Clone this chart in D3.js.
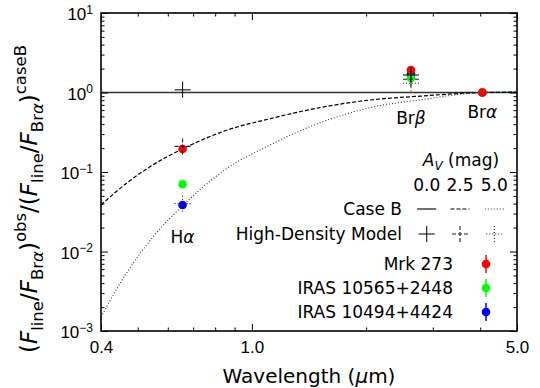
<!DOCTYPE html>
<html>
<head>
<meta charset="utf-8">
<script src="https://cdn.jsdelivr.net/npm/d3@7"></script>
<style>
  body { margin: 0; background: #fff; }
  svg { font-family: "DejaVu Sans", sans-serif; }
</style>
</head>
<body>
<svg id="chart" width="540" height="388"></svg>
<script>
// lines and measured ratios (normalised to Br alpha and case B)
const lineNames = ["H", "Br", "Br"];
const lineGreek = ["α", "β", "α"];
const lineWavelengths = [0.6563, 2.626, 4.052];

const sources = ["Mrk 273", "IRAS 10565+2448", "IRAS 10494+4424"];
const sourceColors = ["#ff0000", "#00ff00", "#0000ff"];
const mrk273Ratio = [0.195, 1.92, 1.0];
const mrk273Err = [0.015, 0.12, 0];
const iras10565Ratio = [0.070, 1.52, 1.0];
const iras10565Err = [0.004, 0.10, 0];
const iras10494Ratio = [0.0385, 1.71, 1.0];
const iras10494Err = [0.003, 0.10, 0];

// high-density model (Ha, Brb) for A_V = 0, 2.5, 5
const hdWavelengths = [0.6563, 2.626];
const hdAv00 = [1.08, 1.66];
const hdAv25 = [0.21, 1.47];
const hdAv50 = [0.040, 1.31];

// case B reddening curves
const curveWavelengths = [0.40, 0.47, 0.55, 0.656, 0.85, 1.12, 1.51, 2.05, 2.78, 4.05, 5.0];
const caseBAv00 = [1, 1, 1, 1, 1, 1, 1, 1, 1, 1, 1];
const caseBAv25 = [0.0385, 0.074, 0.124, 0.195, 0.33, 0.47, 0.645, 0.805, 0.90, 1.0, 1.01];
const caseBAv50 = [0.0015, 0.0056, 0.0155, 0.0375, 0.107, 0.22, 0.415, 0.645, 0.81, 1.0, 1.02];

const avLabels = ["0.0", "2.5", "5.0"];
const xTickValues = [0.4, 1.0, 5.0];
const xTickLabels = ["0.4", "1.0", "5.0"];
const xMinorValues = [0.5, 0.6, 0.7, 0.8, 0.9, 2, 3, 4];
const yTickValues = [1e-3, 1e-2, 1e-1, 1, 10];
const yTickExps = ["−3", "−2", "−1", "0", "1"];

const svg = d3.select("#chart");
const L = 101, R = 517, T = 13, B = 331;

const x = d3.scaleLog().domain([0.4, 5.0]).range([L, R]);
const y = d3.scaleLog().domain([1e-3, 10]).range([B, T]);

const styles = [
  { dash: null, color: "#333", width: 1.4 },
  { dash: "4,2", color: "#000", width: 1.2 },
  { dash: "1,2", color: "#333", width: 1.1 }
];

// case B curves
const line = d3.line().x(d => x(d[0])).y(d => y(d[1])).curve(d3.curveMonotoneX);
[caseBAv00, caseBAv25, caseBAv50].forEach((vals, i) => {
  svg.append("path")
    .datum(curveWavelengths.map((w, j) => [w, vals[j]]))
    .attr("d", line)
    .attr("fill", "none")
    .attr("stroke", styles[i].color)
    .attr("stroke-width", styles[i].width)
    .attr("stroke-dasharray", styles[i].dash);
});

// observed points, drawn last source first
const obs = [
  [mrk273Ratio, mrk273Err],
  [iras10565Ratio, iras10565Err],
  [iras10494Ratio, iras10494Err]
];
[2, 1, 0].forEach(s => {
  const [vals, errs] = obs[s];
  const g = svg.append("g");
  lineWavelengths.forEach((w, j) => {
    if (errs[j] > 0) {
      g.append("line")
        .attr("x1", x(w)).attr("x2", x(w))
        .attr("y1", y(vals[j] - errs[j])).attr("y2", y(vals[j] + errs[j]))
        .attr("stroke", sourceColors[s]).attr("stroke-width", 1.5);
    }
    g.append("circle")
      .attr("cx", x(w)).attr("cy", y(vals[j])).attr("r", 4.3)
      .attr("fill", sourceColors[s]);
  });
});

// cross markers
function cross(px, py, st, arm) {
  const g = svg.append("g")
    .attr("stroke", st.dash ? "#222" : "#111")
    .attr("stroke-width", 1.1)
    .attr("stroke-dasharray", st.dash);
  g.append("line").attr("x1", px - arm).attr("x2", px + arm).attr("y1", py).attr("y2", py);
  g.append("line").attr("x1", px).attr("x2", px).attr("y1", py - arm).attr("y2", py + arm);
}
[hdAv00, hdAv25, hdAv50].forEach((vals, i) => {
  hdWavelengths.forEach((w, j) => cross(x(w), y(vals[j]), styles[i], 8));
});

// line labels
const lineLabelDy = [38, 31, 25];
lineWavelengths.forEach((w, j) => {
  const ref = j === 0 ? iras10494Ratio[j] : 1;
  const t = svg.append("text")
    .attr("x", x(w)).attr("y", y(ref) + lineLabelDy[j])
    .attr("text-anchor", "middle")
    .style("font-size", "17px");
  t.append("tspan").text(lineNames[j]);
  t.append("tspan").style("font-style", "italic").text(lineGreek[j]);
});

// axes frame and ticks
function addAxis(axisFn, scale, transform, values, size, labels) {
  const ax = axisFn(scale).tickValues(values).tickSize(-size).tickPadding(8)
    .tickFormat(labels ? ((d, i) => labels[i]) : () => "");
  const g = svg.append("g").attr("transform", transform).call(ax);
  g.select(".domain").remove();
  g.selectAll(".tick line").attr("stroke", "#000").attr("stroke-width", 1);
  g.selectAll("text").style("font-size", "17px").attr("fill", "#000");
  return g;
}
const yMinor = y.ticks().filter(d => !yTickValues.includes(d));
addAxis(d3.axisBottom, x, `translate(0,${B})`, xTickValues, 7, xTickLabels)
  .selectAll("text").attr("dy", "0.85em");
addAxis(d3.axisBottom, x, `translate(0,${B})`, xMinorValues, 3.5);
addAxis(d3.axisTop, x, `translate(0,${T})`, xTickValues, 7);
addAxis(d3.axisTop, x, `translate(0,${T})`, xMinorValues, 3.5);
const yl = addAxis(d3.axisLeft, y, `translate(${L},0)`, yTickValues, 7, yTickValues.map(() => ""));
yl.selectAll(".tick text").each(function(d, i) {
  const t = d3.select(this).attr("dy", "0.4em");
  t.append("tspan").text("10");
  t.append("tspan").attr("dy", "-0.55em").style("font-size", "12px").text(yTickExps[i]);
});
addAxis(d3.axisLeft, y, `translate(${L},0)`, yMinor, 3.5);
addAxis(d3.axisRight, y, `translate(${R},0)`, yTickValues, 7);
addAxis(d3.axisRight, y, `translate(${R},0)`, yMinor, 3.5);

svg.append("rect")
  .attr("x", L).attr("y", T).attr("width", R - L).attr("height", B - T)
  .attr("fill", "none").attr("stroke", "#000").attr("stroke-width", 1.6);

// axis labels
const xl = svg.append("text")
  .attr("x", (L + R) / 2).attr("y", 383)
  .attr("text-anchor", "middle").style("font-size", "20px");
xl.append("tspan").text("Wavelength (");
xl.append("tspan").style("font-style", "italic").text("μ");
xl.append("tspan").text("m)");

const yLabelParts = [
  ["(", 0], ["F", 0, 1], ["line", 1], ["/", 0], ["F", 0, 1], ["Br", 1], ["α", 1, 1], [")", 0], ["obs", 2],
  ["/(", 0], ["F", 0, 1], ["line", 1], ["/", 0], ["F", 0, 1], ["Br", 1], ["α", 1, 1], [")", 0], ["caseB", 2]
];
const ylab = svg.append("text")
  .attr("transform", "translate(37,199) rotate(-90)")
  .attr("text-anchor", "middle").style("font-size", "23px");
const shift = [0, 6, -11];
let cur = 0;
yLabelParts.forEach(([txt, lvl, it]) => {
  ylab.append("tspan")
    .attr("dy", shift[lvl] - cur)
    .style("font-size", lvl ? "16.5px" : "23px")
    .style("font-style", it ? "italic" : "normal")
    .text(txt);
  cur = shift[lvl];
});

// legend
const colX = [426.7, 460, 494.3];
const av = svg.append("text").attr("x", 461).attr("y", 166)
  .attr("text-anchor", "middle").style("font-size", "17px");
av.append("tspan").style("font-style", "italic").text("A");
av.append("tspan").attr("dy", 4).style("font-size", "12px").style("font-style", "italic").text("V");
av.append("tspan").attr("dy", -4).text(" (mag)");
avLabels.forEach((lab, i) => {
  svg.append("text").attr("x", colX[i]).attr("y", 191)
    .attr("text-anchor", "middle").style("font-size", "17px").text(lab);
});
svg.append("text").attr("x", 402).attr("y", 215).attr("text-anchor", "end")
  .style("font-size", "17px").text("Case B");
svg.append("text").attr("x", 402).attr("y", 240).attr("text-anchor", "end")
  .style("font-size", "17px").text("High-Density Model");
styles.forEach((st, i) => {
  svg.append("line")
    .attr("x1", colX[i] - 9.5).attr("x2", colX[i] + 9.5).attr("y1", 209).attr("y2", 209)
    .attr("stroke", st.color).attr("stroke-width", st.width).attr("stroke-dasharray", st.dash);
  cross(colX[i], 234, st, 8);
});
const legY = [264, 288, 312];
sources.forEach((s, i) => {
  svg.append("text").attr("x", 453).attr("y", legY[i] + 6).attr("text-anchor", "end")
    .style("font-size", "17px").text(s);
  svg.append("line").attr("x1", 486).attr("x2", 486).attr("y1", legY[i] - 9).attr("y2", legY[i] + 9)
    .attr("stroke", sourceColors[i]).attr("stroke-width", 1.5);
  svg.append("circle").attr("cx", 486).attr("cy", legY[i]).attr("r", 4.3).attr("fill", sourceColors[i]);
});
</script>
</body>
</html>
